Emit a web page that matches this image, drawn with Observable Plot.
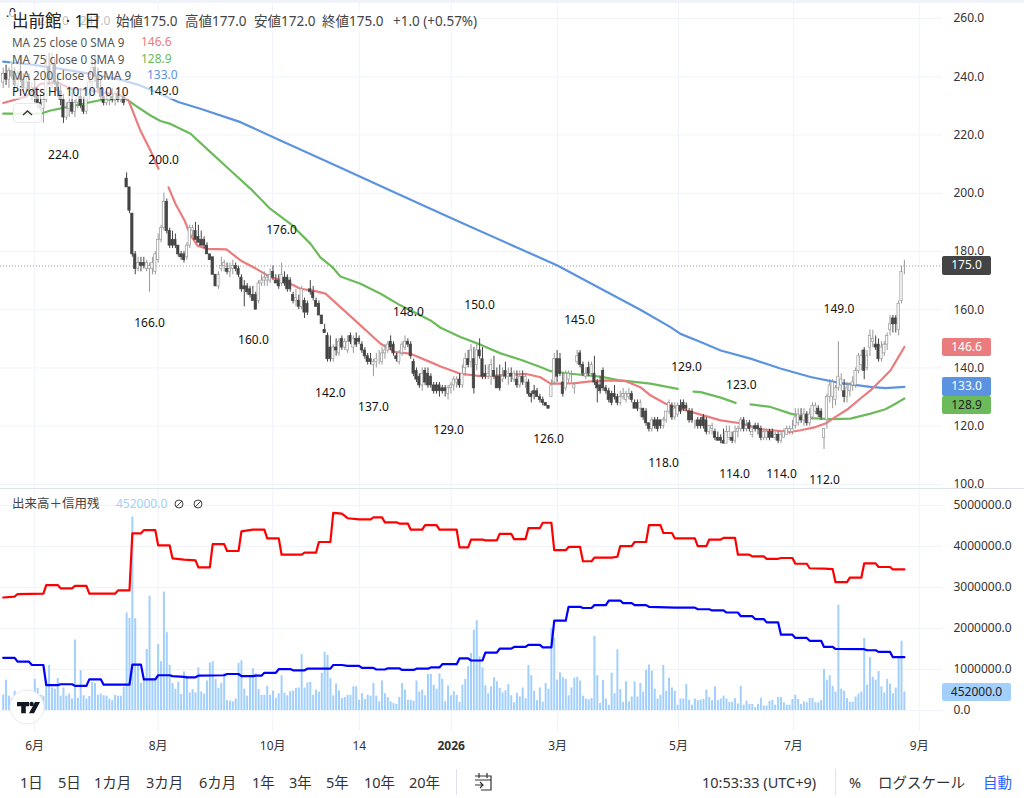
<!DOCTYPE html>
<html lang="ja">
<head>
<meta charset="utf-8">
<script src="https://cdn.jsdelivr.net/npm/d3@7"></script>
<script src="https://cdn.jsdelivr.net/npm/@observablehq/plot@0.6"></script>
<style>
html,body{margin:0;padding:0;background:#fff;}
#root{position:relative;width:1024px;height:798px;overflow:hidden;background:#fff;font-family:"Noto Sans","Noto Sans CJK JP",sans-serif;color:#333;}
#root svg{display:block;position:absolute;left:0;background:transparent;font-family:"Noto Sans","Noto Sans CJK JP",sans-serif;}
.o{position:absolute;white-space:nowrap;line-height:1;}
.tag{position:absolute;left:942px;width:49px;height:18.5px;line-height:18.5px;border-radius:2px;text-align:center;font-size:12px;color:#fff;}
.row{position:absolute;left:10px;height:16px;line-height:16px;background:rgba(255,255,255,.62);font-size:11.7px;color:#555;white-space:nowrap;padding-left:2px;}
.tb{position:absolute;top:775px;font-size:14.5px;line-height:14px;color:#333;white-space:nowrap;}
</style>
</head>
<body>
<div id="root"></div>
<script>
const opens=[
238,241,239,242,240,237,241,239,236,238,
235,236,233,231,229,232,243,239,244,238,
235,232,226,229,231,228,231,233,230,228,
234,238,243,240,236,233,231,232,233,232,
234,232,233,205,202,193,179,174,176,176,
174,174,174,173,177,184,188,197,187,184,
184,182,179,179,178,182,187,187,185,184,
184,182,179,178,172,168,174,175,174,173,
174,175,174,171,168,168,167,165,165,163,
169,170,170,170,173,170,170,169,171,171,
170,165,163,163,161,163,162,167,166,163,
162,158,153,151,147,143,147,145,150,147,
146,151,147,150,150,148,146,144,143,141,
142,143,142,145,146,149,148,144,142,145,
147,149,148,142,139,137,134,139,138,137,
134,134,134,133,133,131,133,134,135,136,
134,140,143,142,143,141,146,143,138,137,
137,139,137,137,136,139,137,138,136,136,
134,137,135,135,131,132,132,130,129,128,
127,130,135,143,143,135,133,136,137,133,
142,145,141,137,140,138,138,135,134,139,
133,132,131,131,130,128,130,129,130,131,
128,128,126,126,125,121,119,122,122,122,
120,122,125,127,123,124,127,128,127,125,
125,121,122,122,123,122,118,119,118,116,
116,115,114,116,116,115,118,119,122,119,
121,117,120,120,119,116,116,118,118,116,
117,115,116,117,118,118,120,121,123,122,
124,121,123,125,126,125,116,122,130,130,
129,133,134,132,130,132,134,134,139,141,
146,140,147,149,148,148,143,145,148,153,
157,157,153,163,175];
const highs=[
243,244,243,245,243,242,246,241,240,241,
238,239,236,234,233,247,248,248,246,241,
237,234,231,233,236,232,234,236,233,235,
240,246,247,243,239,236,234,235,236,235,
236,234,235,207,202,193,180,178,178,178,
177,176,178,180,186,189,200,198,188,187,
186,182,180,180,183,189,189,190,189,187,
185,183,179,178,172,173,178,177,176,176,
177,176,175,172,170,169,168,168,166,170,
172,173,172,174,175,172,172,176,173,172,
171,166,167,165,168,164,163,170,168,164,
163,158,155,152,151,148,150,150,151,150,
151,152,151,152,151,149,147,145,145,143,
145,146,147,148,149,151,149,145,146,149,
151,150,149,143,140,138,140,140,140,138,
135,135,135,134,134,134,135,137,137,138,
141,145,146,148,147,148,150,147,141,141,
143,144,140,141,140,142,140,140,139,139,
139,139,138,136,132,134,133,131,130,128,
127,136,145,146,145,138,139,139,139,135,
146,146,142,140,142,142,144,136,137,140,
134,133,132,134,131,132,133,132,133,132,
129,129,129,126,126,121,123,123,123,122,
123,125,129,128,128,128,129,129,128,126,
126,122,123,123,124,123,120,121,119,118,
117,119,120,120,118,120,120,123,123,122,
122,120,121,121,120,119,119,119,119,118,
118,118,119,120,120,122,126,126,126,126,
125,126,128,128,127,126,119,131,136,136,
134,149,138,136,135,135,137,140,145,146,
147,146,153,153,151,150,149,149,152,158,
158,158,163,175,177];
const lows=[
236,237,236,239,235,235,238,235,234,234,
232,231,229,228,224,231,237,236,237,233,
230,224,225,226,227,226,229,229,227,227,
232,236,238,235,232,230,230,230,231,230,
231,231,230,202,193,178,172,173,173,174,
173,166,172,172,176,183,187,186,181,181,
181,178,177,176,177,181,185,184,183,182,
181,179,177,172,168,167,173,173,172,171,
172,173,171,166,161,165,164,163,160,162,
168,168,168,169,170,169,167,168,168,166,
166,162,161,160,160,157,158,165,163,161,
158,155,152,142,142,142,144,144,146,146,
145,148,145,147,148,145,143,141,141,137,
140,141,141,143,145,146,144,142,141,144,
146,147,143,137,135,133,132,134,133,133,
131,131,130,131,130,129,131,132,133,133,
133,137,140,140,131,139,143,136,136,136,
134,136,133,132,135,136,134,135,135,133,
133,134,133,130,128,129,130,128,127,127,
126,130,134,135,137,130,132,135,135,131,
141,140,137,136,137,137,134,128,131,132,
131,128,127,129,127,127,129,128,129,128,
126,125,123,122,120,118,118,119,118,119,
119,121,124,122,122,123,124,125,125,121,
121,119,119,119,119,117,117,117,115,115,
114,114,114,115,114,114,116,118,118,118,
118,116,118,117,115,115,115,115,116,115,
114,114,116,117,117,117,119,120,121,120,
120,120,122,124,123,122,112,119,128,126,
127,132,132,128,128,130,132,133,138,139,
136,139,144,147,146,142,142,144,146,151,
152,152,151,162,172];
const closes=[
241,239,242,240,237,241,239,236,238,235,
236,233,231,229,232,243,239,244,238,235,
232,226,229,231,228,231,233,230,228,234,
238,243,240,236,233,231,232,233,232,234,
232,233,231,202,194,179,174,176,175,175,
176,175,176,179,184,188,197,187,182,182,
182,179,178,177,182,188,188,184,183,182,
182,179,177,172,168,172,175,176,173,174,
175,174,172,167,167,166,165,163,160,169,
170,171,171,172,171,169,168,172,169,167,
167,163,164,161,167,159,159,166,164,161,
158,155,152,143,143,147,146,149,147,149,
149,149,150,148,149,146,144,142,142,142,
143,143,145,146,148,147,145,143,145,148,
149,148,144,138,136,134,138,135,134,134,
132,132,132,132,132,133,134,136,136,134,
138,143,141,146,133,146,144,137,137,138,
141,137,133,133,137,137,138,137,138,134,
137,135,137,131,130,131,130,129,128,127,
126,134,143,137,138,131,138,138,137,134,
144,141,138,138,138,141,135,133,132,133,
132,129,128,130,128,130,131,131,131,129,
126,126,128,123,121,119,122,120,119,120,
122,125,128,123,126,127,125,126,126,122,
122,121,120,120,120,118,120,120,116,115,
115,114,118,118,115,118,119,122,119,120,
119,118,119,119,116,118,118,116,116,117,
115,117,118,119,119,119,123,124,122,124,
121,124,127,127,124,123,119,130,134,135,
133,137,136,130,133,134,135,139,144,144,
139,144,151,150,147,143,147,148,151,155,
155,155,162,173,175];
const volumes=[
380,740,350,290,470,350,330,300,410,330,
330,760,540,370,350,740,1100,550,520,780,
350,550,350,400,280,1720,300,970,360,280,
340,680,660,370,400,360,350,280,240,370,
350,350,570,2380,2250,4720,2240,1120,660,740,
1490,2790,780,740,1610,1190,2890,1900,1100,660,
520,690,390,940,840,430,510,430,1040,450,
400,720,1160,1190,760,540,660,900,240,230,
210,280,1150,1210,520,350,860,1020,900,510,
370,370,590,370,470,300,410,850,420,360,
460,470,540,550,1370,550,670,690,370,500,
450,910,1420,1350,780,360,650,480,290,320,
370,370,580,580,250,410,270,370,350,660,
350,210,720,410,320,210,170,150,320,660,
500,250,250,230,720,450,500,360,880,880,
620,520,890,760,210,600,360,460,370,200,
620,760,1070,1390,1960,2190,1310,1040,600,410,
580,800,700,540,430,480,630,360,190,420,
330,550,290,1100,850,470,240,550,200,660,
520,2000,1760,740,920,800,760,360,550,790,
810,720,350,280,260,290,1810,850,170,730,
280,130,910,410,1480,510,200,700,210,330,
700,330,660,450,980,1110,960,520,280,370,
1100,470,790,550,470,130,280,280,630,250,
130,280,240,250,270,500,320,240,580,240,
280,350,280,200,200,290,160,590,130,230,
150,150,70,150,300,110,110,220,250,130,
320,320,190,130,130,270,370,270,150,210,
190,290,300,190,190,240,1000,740,850,590,
450,2570,520,470,290,200,200,330,400,450,
1760,620,1290,810,740,950,580,430,760,640,
410,550,1310,1690,452];
const ma25=[[0,231],[8,233.2],[13,237.6],[19,238],[23.5,236],[30.4,235.3],[34,234.7],[41,233.6],[43.7,231.8],[47.8,221.5],[51.3,214.7],[54.1,208.4],[55,NaN],[57.6,202],[60,196.4],[63.2,190.6],[65.3,185.5],[67.7,182],[70.8,180.9],[77.8,180.7],[82.7,176.9],[87.2,174.6],[93.1,171.2],[97.7,170],[103.6,167.2],[108.8,166.4],[112.3,165.5],[117.5,160.9],[124.5,154.6],[131.5,148.3],[136.7,145.4],[141.9,144.9],[148.9,142],[152.4,140.5],[159.3,138],[166.3,137.2],[171.5,137.4],[176.8,137.6],[182,138],[187.2,136.8],[190.7,134.6],[194.2,134.6],[199.4,134.8],[204.6,135.4],[211.6,135.7],[216.8,135.5],[222,133.4],[225.5,130.6],[230.8,127.7],[236,126],[241.2,124.5],[250,122],[256.9,121],[263.9,119],[274.3,118],[277.8,118.6],[283,119.7],[286.5,120.9],[290,123.2],[294.5,126],[298.7,129.5],[302.2,132.3],[305.7,135.7],[309.2,139.2],[311.6,143.2],[314,147.2]];
const ma75=[[0,227.3],[13,227.3],[16.5,228.4],[23.5,229.8],[34,232],[42.6,232.6],[46.1,230.1],[51.3,226.7],[54.8,224.8],[58.3,223.8],[65.3,220.4],[72.2,214.1],[79.2,207.8],[86.2,201.5],[93.1,194.6],[100.1,189.5],[107.1,182.6],[110.5,178],[114.7,174.6],[117.5,171.4],[124.5,168.9],[131.5,165.5],[138.4,161.5],[148.9,156.3],[152.4,153.8],[159.3,150.6],[166.3,148],[173.3,145],[180.3,142.8],[187.2,140.3],[190.7,138.9],[197.7,138],[208.1,137],[215.1,135.7],[225.5,134.6],[235,132.8],[237,NaN],[240.5,131.9],[243,131.7],[250,129.8],[255.2,128],[257,NaN],[260.4,127.5],[267.4,126.6],[274.3,124.3],[281.3,122.8],[288.3,122.4],[295.2,122.6],[302.2,124.3],[307.4,125.8],[310.9,127.7],[314,129.5]];
const ma200=[[0,245.2],[9.5,244.2],[20,242.7],[30.4,241],[41,239],[47.8,237],[54.8,234.1],[61,231.3],[68.7,229],[82.7,224.4],[96.6,218.1],[112,211.2],[121,207.2],[134.9,200.9],[148.9,194.7],[159.3,190],[179.2,181.3],[193.1,175.2],[208.1,167.3],[222,160],[232.5,154],[236,151.7],[243,148.9],[250,146],[260.4,143.2],[270.8,139.8],[281.3,136.9],[291.7,134.8],[302.2,133.5],[307.4,133.1],[314,133.5]];
const marginBuy=[[0,2.756],[4,2.78],[5,2.84],[14,2.85],[15,3.06],[19,3.06],[20,2.98],[24,2.98],[25,3.04],[29,3.04],[30,2.85],[39,2.85],[40,2.93],[44,2.93],[45,4.32],[48,4.32],[49,4.40],[53,4.40],[54,4.03],[58,4.03],[59,3.71],[63,3.68],[67,3.66],[68,3.49],[72,3.49],[73,4.06],[77,4.06],[78,3.89],[82,3.89],[83,4.37],[87,4.41],[91,4.41],[92,4.20],[96,4.20],[97,3.80],[104,3.80],[105,3.85],[109,3.85],[110,4.11],[114,4.11],[115,4.82],[118,4.80],[120,4.69],[124,4.66],[128,4.66],[129,4.71],[132,4.71],[133,4.59],[137,4.59],[138,4.56],[141,4.56],[142,4.41],[146,4.41],[147,4.52],[151,4.52],[152,4.41],[158,4.41],[159,3.98],[162,3.98],[163,4.17],[167,4.17],[168,4.15],[172,4.15],[173,4.31],[177,4.31],[178,4.18],[182,4.18],[183,4.45],[187,4.45],[188,4.58],[191,4.58],[192,3.91],[196,3.91],[197,3.99],[201,3.99],[202,3.64],[205,3.64],[206,3.73],[212,3.73],[214,3.75],[215,4.01],[219,4.01],[220,4.11],[224,4.11],[225,4.52],[229,4.52],[230,4.33],[233,4.33],[234,4.20],[241,4.20],[242,4.01],[245,4.01],[246,4.17],[250,4.17],[251,4.21],[255,4.21],[256,3.80],[260,3.80],[261,3.76],[265,3.76],[266,3.70],[270,3.70],[271,3.72],[275,3.72],[276,3.58],[280,3.58],[281,3.47],[286,3.46],[289,3.45],[290,3.13],[294,3.13],[295,3.24],[299,3.24],[300,3.59],[304,3.59],[305,3.50],[309,3.50],[310,3.44],[314,3.44]];
const marginSell=[[0,1.285],[4,1.285],[5,1.19],[9,1.19],[10,1.11],[14,1.11],[15,0.62],[19,0.62],[20,0.64],[24,0.64],[25,0.60],[29,0.60],[30,0.76],[34,0.76],[35,0.63],[44,0.63],[45,1.12],[48,1.12],[49,0.76],[53,0.76],[54,0.86],[58,0.86],[59,0.84],[63,0.82],[64,0.81],[67,0.81],[68,0.85],[77,0.86],[78,0.89],[82,0.89],[83,0.84],[87,0.84],[88,0.85],[90,0.85],[91,0.92],[95,0.92],[96,1.01],[100,1.01],[101,0.98],[105,0.98],[106,1.02],[114,1.02],[115,1.11],[118,1.11],[120,1.09],[124,1.09],[125,1.04],[129,1.04],[130,1.0],[133,1.0],[134,1.03],[138,1.03],[139,0.99],[143,0.99],[144,1.02],[148,1.02],[149,1.05],[152,1.05],[153,1.13],[158,1.13],[159,1.27],[162,1.27],[163,1.22],[167,1.22],[168,1.41],[172,1.41],[173,1.51],[177,1.51],[178,1.55],[182,1.55],[183,1.60],[187,1.60],[188,1.54],[191,1.54],[192,2.19],[196,2.19],[197,2.53],[201,2.53],[202,2.50],[205,2.50],[206,2.57],[210,2.57],[211,2.68],[215,2.68],[216,2.62],[219,2.62],[220,2.57],[224,2.57],[225,2.53],[234,2.51],[241,2.51],[242,2.47],[246,2.47],[247,2.44],[251,2.44],[252,2.39],[256,2.39],[257,2.30],[261,2.30],[262,2.23],[265,2.23],[266,2.15],[270,2.15],[271,1.85],[275,1.85],[276,1.77],[280,1.77],[281,1.70],[285,1.70],[286,1.55],[289,1.55],[290,1.50],[300,1.495],[301,1.47],[304,1.47],[305,1.43],[309,1.43],[310,1.30],[314,1.30]];
const pivotTexts=[".0","248.0","247.0","224.0","200.0","176.0","166.0","160.0","142.0","137.0","148.0","129.0","150.0","126.0","145.0","118.0","129.0","123.0","114.0","114.0","112.0","149.0"];
const pivotIdx=[2.7,17.5,32,21,55.9,97,51,87.2,114,129,141.2,155.2,166,190,200.8,230.1,238.1,257.2,254.8,271.2,286.2,291.2];
const pivotAt=[262,259,259,213,211.2,187.2,155.3,149.4,131.2,126.4,159.1,118.5,161.5,115.5,156.3,107.2,140.2,134,103.4,103.4,101.4,160.1];
const priceTicks=[100,120,140,160,180,200,220,240,260];
const volumeTicks=[0,1e6,2e6,3e6,4e6,5e6];
const timeTicks=[10.97,54,93.9,124.1,193.2,235.3,275.3,319.2];
const timeLabels=["6月","8月","10月","14","3月","5月","7月","9月"];
const yearTick=[156.1];
const yearLabel=["2026"];
const lastPrice=175, ma25Last=146.6, ma75Last=128.9, ma200Last=133.0, lastVolume=452000;

const candles=d3.range(closes.length).map(i=>({i,o:opens[i],h:highs[i],l:lows[i],c:closes[i],up:closes[i]>=opens[i],x1:i-0.4,x2:i+0.4}));
const vols=volumes.map((v,i)=>({i,v:v*1000}));
const pt=([i,v])=>({i,v});
const grid="#f0f3fa";
const xScale={domain:[-0.94,327.28],range:[0,942]};
const root=document.getElementById("root");

const pricePlot=Plot.plot({
  width:1024,height:488,marginTop:0,marginBottom:0,marginLeft:0,marginRight:82,
  x:{...xScale,axis:null},
  y:{domain:[98.6,266.18],axis:null},
  style:{fontSize:"12px",background:"transparent"},
  marks:[
    Plot.ruleY(priceTicks,{stroke:grid}),
    Plot.ruleX(timeTicks.concat(yearTick),{stroke:grid}),
    Plot.ruleY([lastPrice],{stroke:"#9a9a9a",strokeDasharray:"1,2"}),
    Plot.axisY({anchor:"right",ticks:priceTicks,tickFormat:d3.format(".1f"),tickSize:0,tickPadding:11,fontSize:12,fill:"#333",label:null}),
    Plot.line(ma200.map(pt),{x:"i",y:"v",stroke:"#5b93e0",strokeWidth:2.2}),
    Plot.line(ma75.map(pt),{x:"i",y:"v",stroke:"#6bbb5b",strokeWidth:2.2}),
    Plot.line(ma25.map(pt),{x:"i",y:"v",stroke:"#ea7c7e",strokeWidth:2.2}),
    Plot.ruleX(candles,{x:"i",y1:"l",y2:"h",stroke:d=>d.up?"#999":"#444",strokeWidth:1}),
    Plot.rect(candles,{x1:"x1",x2:"x2",y1:"o",y2:"c",fill:d=>d.up?"#fff":"#444",stroke:d=>d.up?"#999":"#444",strokeWidth:0.7}),
    Plot.text(pivotTexts,{x:(d,k)=>pivotIdx[k],y:(d,k)=>pivotAt[k],text:d=>d,fill:"#111",fontSize:12,textAnchor:"middle"})
  ]
});
pricePlot.style.top="0px";
root.appendChild(pricePlot);

const volPlot=Plot.plot({
  width:1024,height:270,marginTop:0,marginBottom:27,marginLeft:0,marginRight:82,
  x:{...xScale,axis:null},
  y:{domain:[-512000,5415000],axis:null},
  style:{fontSize:"12px",background:"transparent"},
  marks:[
    Plot.ruleY(volumeTicks,{stroke:grid}),
    Plot.ruleX(timeTicks.concat(yearTick),{stroke:grid}),
    Plot.axisY({anchor:"right",ticks:volumeTicks,tickFormat:d3.format(".1f"),tickSize:0,tickPadding:11,fontSize:12,fill:"#333",label:null}),
    Plot.ruleX(vols,{x:"i",y1:0,y2:"v",stroke:"#a3cffc",strokeWidth:2}),
    Plot.line(marginBuy.map(pt),{x:"i",y:d=>d.v*1e6,stroke:"#ff0000",strokeWidth:2.2}),
    Plot.line(marginSell.map(pt),{x:"i",y:d=>d.v*1e6,stroke:"#0000ff",strokeWidth:2.2}),
    Plot.axisX({ticks:timeTicks,tickFormat:(d,k)=>timeLabels[k],tickSize:0,tickPadding:10,fontSize:12,fill:"#333",label:null}),
    Plot.axisX({ticks:yearTick,tickFormat:(d,k)=>yearLabel[k],tickSize:0,tickPadding:10,fontSize:12,fontWeight:"bold",fill:"#333",label:null})
  ]
});
volPlot.style.top="488px";
root.appendChild(volPlot);

function el(cls,css,text,parent){const e=document.createElement("div");e.className=cls;e.style.cssText=css;if(text!=null)e.textContent=text;(parent||root).appendChild(e);return e;}
// chrome
el("o","left:0;top:0;width:1024px;height:3px;background:#f0f3fa;");
el("o","left:0;top:488px;width:1024px;height:1px;background:#e0e3eb;");
// price tags
const py=pricePlot.scale("y"), vy=volPlot.scale("y");
[[lastPrice,"#444",0,"#fff"],[ma25Last,"#ea7c7e",-1,"#fff"],[ma200Last,"#5b93e0",-1.4,"#fff"],[ma75Last,"#6bbb5b",5.3,"#222"]].forEach(([v,bg,off,fg])=>{
  el("tag",`top:${py.apply(v)+off-9.25}px;background:${bg};color:${fg};`,v.toFixed(1));
});
el("tag",`top:${488+vy.apply(lastVolume)-8.5}px;width:69px;background:#a3cffc;color:#222;`,lastVolume.toFixed(1));
// legend
el("o","left:10px;top:12px;width:470px;height:20px;background:rgba(255,255,255,.72);");
el("o","left:12px;top:13px;font-size:16.5px;color:#222;","出前館 · 1日");
[["始値175.0",116],["高値177.0",185],["安値172.0",254],["終値175.0",322],["+1.0 (+0.57%)",393]].forEach(([t,x])=>el("o",`left:${x}px;top:14.5px;font-size:13.5px;color:#444;`,t));
[["MA 25 close 0 SMA 9",34,"146.6","#ea7c7e",141,164],["MA 75 close 0 SMA 9",50.5,"128.9","#6bbb5b",141,164],["MA 200 close 0 SMA 9",67,"133.0","#5b93e0",147,170],["Pivots HL 10 10 10 10",83,"149.0","#222",148,172]].forEach(([t,y,v,c,vx,w],k)=>{
  el("row",`top:${y}px;width:${w}px;${k==3?"color:#222;":""}`,t);
  el("o",`left:${vx}px;top:${y+2}px;font-size:12px;color:${c};`,v);
});
// collapse button
const btn=el("o","left:13px;top:103px;width:27px;height:18px;background:rgba(255,255,255,.85);border:1px solid #e6e8ee;border-radius:4px;");
btn.innerHTML='<svg width="27" height="18" style="position:static"><path d="M9 11l4.5-4 4.5 4" fill="none" stroke="#333" stroke-width="1.4"/></svg>';
// logo
const logo=el("o","left:9px;top:689px;width:36px;height:36px;");
logo.innerHTML='<svg width="36" height="36" style="position:static"><circle cx="18" cy="18" r="17" fill="#fff" stroke="#e6e8ee"/><path d="M8 13h12v4.2h-3.2v7h-4.6v-7H8z" fill="#131722"/><circle cx="22.6" cy="15" r="2.2" fill="#131722"/><path d="M26 13h5l-6 11.2h-5z" fill="#131722"/></svg>';
// volume pane title
el("o","left:12px;top:498px;font-size:12.5px;color:#444;","出来高＋信用残");
el("o","left:116px;top:498px;font-size:12px;color:#a3cffc;","452000.0");
const nul=el("o","left:174px;top:498px;width:30px;height:12px;");
nul.innerHTML='<svg width="30" height="12" style="position:static"><g fill="none" stroke="#444" stroke-width="1"><circle cx="5" cy="6" r="4"/><path d="M2 9l6-6"/><circle cx="24" cy="6" r="4"/><path d="M21 9l6-6"/></g></svg>';
// toolbar
[["1日",20],["5日",58],["1カ月",94],["3カ月",146],["6カ月",199],["1年",252],["3年",289],["5年",326],["10年",364],["20年",409]].forEach(([t,x])=>el("tb",`left:${x}px;`,t));
el("o","left:456px;top:769px;width:1px;height:26px;background:#e0e3eb;");
const cal=el("o","left:474px;top:773px;width:19px;height:18px;");
cal.innerHTML='<svg width="19" height="18" style="position:static"><path d="M1 3h16v14H7M5 0v5M13 0v5M1 7h16M1 12h8M6 9l3 3-3 3" fill="none" stroke="#333" stroke-width="1.2"/></svg>';
el("tb","left:702px;","10:53:33 (UTC+9)");
el("o","left:835px;top:769px;width:1px;height:26px;background:#e0e3eb;");
el("tb","left:849px;","%");
el("tb","left:878px;","ログスケール");
el("tb","left:983px;color:#2962ff;","自動");
</script>
</body>
</html>
